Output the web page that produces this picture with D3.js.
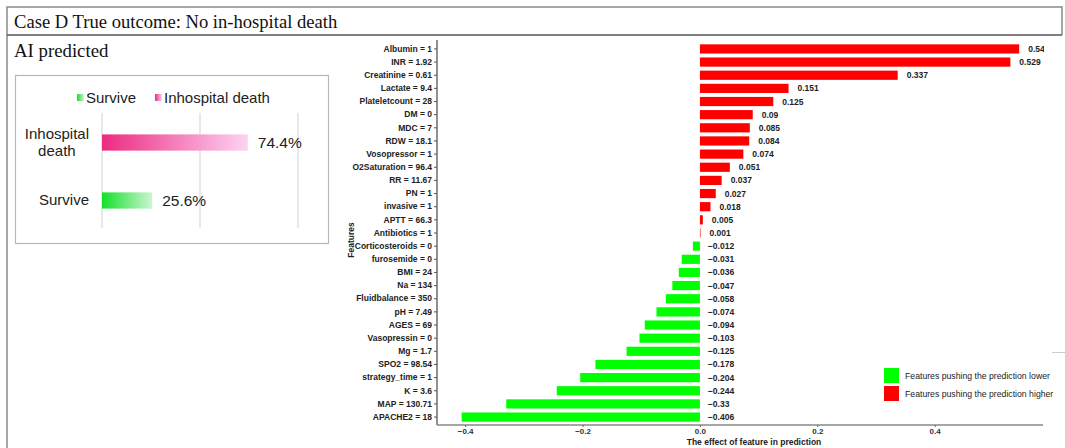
<!DOCTYPE html>
<html>
<head>
<meta charset="utf-8">
<script src="https://cdn.jsdelivr.net/npm/d3@7/dist/d3.min.js"></script>
<style>
  html, body { margin: 0; padding: 0; background: #fff; }
  svg { display: block; }
</style>
</head>
<body>
<svg id="chart" width="1065" height="448"></svg>
<script>
// Feature contributions (label and effect on the prediction)
const features = [
  "Albumin = 1", "INR = 1.92", "Creatinine = 0.61", "Lactate = 9.4", "Plateletcount = 28",
  "DM = 0", "MDC = 7", "RDW = 18.1", "Vosopressor = 1", "O2Saturation = 96.4",
  "RR = 11.67", "PN = 1", "invasive = 1", "APTT = 66.3", "Antibiotics = 1",
  "Corticosteroids = 0", "furosemide = 0", "BMI = 24", "Na = 134", "Fluidbalance = 350",
  "pH = 7.49", "AGES = 69", "Vasopressin = 0", "Mg = 1.7", "SPO2 = 98.54",
  "strategy_time = 1", "K = 3.6", "MAP = 130.71", "APACHE2 = 18"
];
const effects = [
  0.544, 0.529, 0.337, 0.151, 0.125,
  0.09, 0.085, 0.084, 0.074, 0.051,
  0.037, 0.027, 0.018, 0.005, 0.001,
  -0.012, -0.031, -0.036, -0.047, -0.058,
  -0.074, -0.094, -0.103, -0.125, -0.178,
  -0.204, -0.244, -0.33, -0.406
];
const effectTicks = [-0.4, -0.2, 0.0, 0.2, 0.4];
const legendLabels = ["Features pushing the prediction lower", "Features pushing the prediction higher"];

// Predicted outcome probabilities
const outcomeNames = ["Inhospital death", "Survive"];
const outcomeProbs = [0.744, 0.256];
const outcomeGrid = [0, 0.5, 1];

const svg = d3.select("#chart");
const SANS = "'Liberation Sans', Arial, sans-serif";
const SERIF = "'Liberation Serif', 'Times New Roman', serif";

// ---- outer frame and headings ----
const frame = svg.append("g").attr("fill", "none");
frame.append("path").attr("d", "M7,448 V7 H1062 V35").attr("stroke", "#8a8a8a").attr("stroke-width", 1.5);
frame.append("line").attr("x1", 7).attr("x2", 1062).attr("y1", 35).attr("y2", 35)
  .attr("stroke", "#555").attr("stroke-width", 1.5);

svg.append("text").attr("x", 14).attr("y", 28)
  .attr("font-family", SERIF).attr("font-size", 18.6).attr("fill", "#111")
  .text("Case D True outcome: No in-hospital death");
svg.append("text").attr("x", 14).attr("y", 57)
  .attr("font-family", SERIF).attr("font-size", 18.8).attr("fill", "#111")
  .text("AI predicted");

// ---- probability panel ----
const defs = svg.append("defs");
const gradDeath = defs.append("linearGradient").attr("id", "gDeath");
gradDeath.append("stop").attr("offset", "0%").attr("stop-color", "#ec2a80");
gradDeath.append("stop").attr("offset", "100%").attr("stop-color", "#fdd3f2");
const gradSurv = defs.append("linearGradient").attr("id", "gSurv");
gradSurv.append("stop").attr("offset", "0%").attr("stop-color", "#12e02a");
gradSurv.append("stop").attr("offset", "100%").attr("stop-color", "#cdf5d2");
const outcomeFill = ["url(#gDeath)", "url(#gSurv)"];

svg.append("rect").attr("x", 15.5).attr("y", 75.5).attr("width", 313).attr("height", 168)
  .attr("fill", "#fff").attr("stroke", "#b8b8b8").attr("stroke-width", 1.2);

const px = d3.scaleLinear().domain([0, 1]).range([102, 298]);
const py = d3.scaleBand().domain(outcomeNames).range([117, 226]).paddingInner(0.72).paddingOuter(0.3);

const pg = svg.append("g");
pg.selectAll("line.grid").data(outcomeGrid).join("line")
  .attr("x1", d => px(d)).attr("x2", d => px(d)).attr("y1", 113).attr("y2", 228)
  .attr("stroke", "#d9d9d9").attr("stroke-width", 1.2);

pg.selectAll("rect.bar").data(outcomeNames).join("rect")
  .attr("x", px(0)).attr("y", d => py(d))
  .attr("width", (d, i) => px(outcomeProbs[i]) - px(0))
  .attr("height", py.bandwidth())
  .attr("fill", (d, i) => outcomeFill[i]);

pg.selectAll("text.val").data(outcomeNames).join("text")
  .attr("x", (d, i) => px(outcomeProbs[i]) + 10)
  .attr("y", d => py(d) + py.bandwidth() / 2 + 5.5)
  .attr("font-family", SANS).attr("font-size", 15.5).attr("fill", "#222")
  .text((d, i) => d3.format(".1%")(outcomeProbs[i]));

// category labels: right-aligned block, wrapped lines centred within it
const labelRight = 89;
outcomeNames.forEach(d => {
  const words = d === "Inhospital death" ? ["Inhospital", "death"] : [d];
  const cy = py(d) + py.bandwidth() / 2;
  const t = pg.append("text").attr("text-anchor", "middle")
    .attr("font-family", SANS).attr("font-size", 15).attr("fill", "#222");
  const spans = words.map((w, k) => t.append("tspan")
    .attr("y", cy + 5 + (k - (words.length - 1) / 2) * 17).text(w));
  const maxW = d3.max(spans, s => s.node().getComputedTextLength());
  spans.forEach(s => s.attr("x", labelRight - maxW / 2));
});

// legend for probability panel
const legOrder = [1, 0];
const legX = [77, 155];
legOrder.forEach((idx, k) => {
  pg.append("rect").attr("x", legX[k]).attr("y", 94).attr("width", 7).attr("height", 7)
    .attr("fill", outcomeFill[idx]);
  pg.append("text").attr("x", legX[k] + 9).attr("y", 103)
    .attr("font-family", SANS).attr("font-size", 15).attr("fill", "#222")
    .text(outcomeNames[idx]);
});

// ---- feature effect chart ----
const x = d3.scaleLinear().domain([-0.448, 0.588]).range([437, 1045]);
const y = d3.scaleBand().domain(features).range([41.5, 424.5]).paddingInner(0.3).paddingOuter(0.215);

defs.append("clipPath").attr("id", "plotClip")
  .append("rect").attr("x", 437).attr("y", 36).attr("width", 607).attr("height", 400);

const fg = svg.append("g");
fg.selectAll("rect.feat").data(features).join("rect")
  .attr("x", (d, i) => Math.min(x(0), x(effects[i])))
  .attr("y", d => y(d))
  .attr("width", (d, i) => Math.abs(x(effects[i]) - x(0)))
  .attr("height", y.bandwidth())
  .attr("fill", (d, i) => effects[i] >= 0 ? "#ff0000" : "#00ff00");

const fmt = v => (v < 0 ? "\u2212" : "") + String(Math.abs(v));
fg.append("g").attr("clip-path", "url(#plotClip)")
  .selectAll("text").data(features).join("text")
  .attr("x", (d, i) => effects[i] >= 0 ? x(effects[i]) + 9 : x(0) + 8)
  .attr("y", d => y(d) + y.bandwidth() / 2 + 3)
  .attr("font-family", SANS).attr("font-size", 8.5).attr("font-weight", "bold").attr("fill", "#222")
  .text((d, i) => fmt(effects[i]));

// y axis
const yAxis = svg.append("g").attr("transform", "translate(437,0)")
  .call(d3.axisLeft(y).tickSize(3).tickPadding(2));
yAxis.select(".domain").attr("d", "M0,40V425").attr("stroke", "#555").attr("stroke-width", 1.3);
yAxis.selectAll(".tick line").attr("stroke", "#555");
yAxis.selectAll(".tick text").attr("font-family", SANS).attr("font-size", 8.5)
  .attr("font-weight", "bold").attr("fill", "#222");

// x axis
const xAxis = svg.append("g").attr("transform", "translate(0,425)")
  .call(d3.axisBottom(x).tickValues(effectTicks).tickSize(2).tickPadding(1)
    .tickFormat(d => (d < 0 ? "\u2212" : "") + Math.abs(d).toFixed(1)));
xAxis.select(".domain").attr("d", "M437,0H1043").attr("stroke", "#888").attr("stroke-width", 1.5);
xAxis.selectAll(".tick line").attr("stroke", "#666");
xAxis.selectAll(".tick text").attr("font-family", SANS).attr("font-size", 8)
  .attr("font-weight", "bold").attr("fill", "#333");

// axis titles
svg.append("text").attr("transform", "translate(354,240) rotate(-90)")
  .attr("text-anchor", "middle").attr("font-family", SANS).attr("font-size", 8.5)
  .attr("font-weight", "bold").attr("fill", "#222").text("Features");
svg.append("text").attr("x", 754).attr("y", 444.5)
  .attr("text-anchor", "middle").attr("font-family", SANS).attr("font-size", 8.5)
  .attr("font-weight", "bold").attr("fill", "#222").text("The effect of feature in prediction");

// legend
const legColors = ["#00ff00", "#ff0000"];
legendLabels.forEach((lab, k) => {
  svg.append("rect").attr("x", 884).attr("y", 368 + k * 18).attr("width", 15).attr("height", 15)
    .attr("fill", legColors[k]);
  svg.append("text").attr("x", 905).attr("y", 379 + k * 18)
    .attr("font-family", SANS).attr("font-size", 8.7).attr("fill", "#222").text(lab);
});
svg.append("line").attr("x1", 1052).attr("x2", 1065).attr("y1", 352.5).attr("y2", 352.5)
  .attr("stroke", "#ccc").attr("stroke-width", 1);
</script>
</body>
</html>
